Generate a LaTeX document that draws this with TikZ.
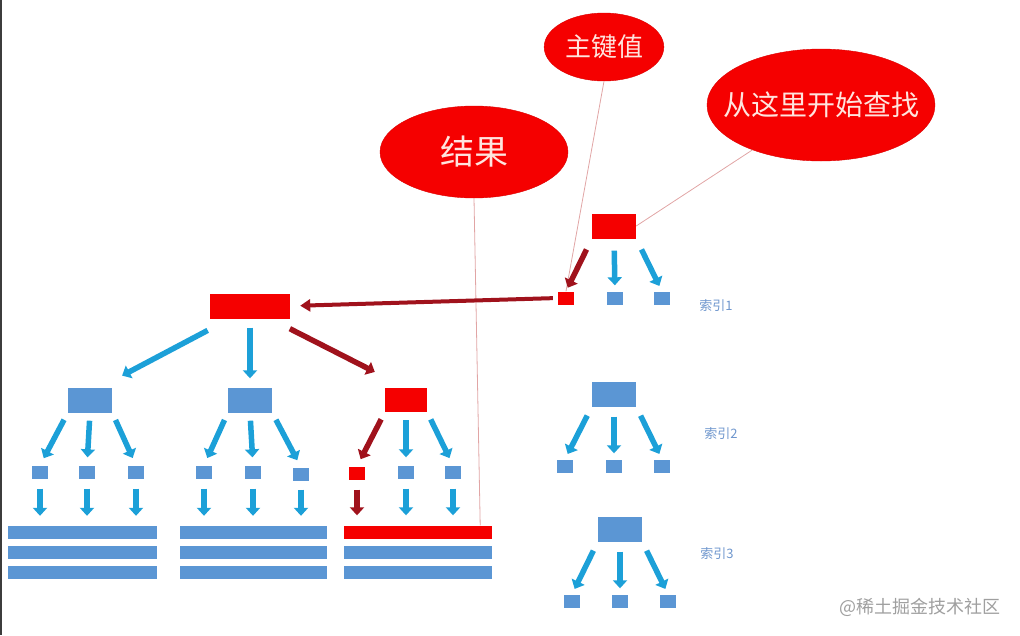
\documentclass[tikz,border=0pt]{standalone}
\usepackage{fontspec}
\newfontfamily\cjk{Noto Sans CJK SC}
\usetikzlibrary{arrows.meta}
\usetikzlibrary{shapes.geometric}

\definecolor{boxred}{RGB}{245,0,0}
\definecolor{boxblue}{RGB}{91,150,212}
\definecolor{arrblue}{RGB}{28,160,216}
\definecolor{arrred}{RGB}{160,18,28}
\definecolor{thinpink}{RGB}{225,165,165}
\definecolor{bubbletext}{RGB}{255,228,222}
\definecolor{labelblue}{RGB}{110,150,205}
\definecolor{frameline}{RGB}{60,60,60}

\tikzset{
    bigbox/.style={fill=#1, inner sep=0pt, minimum width=44pt, minimum height=25pt},
    smallbox/.style={fill=#1, inner sep=0pt, minimum width=16pt, minimum height=13pt},
    rowbar/.style={fill=#1, inner sep=0pt, minimum height=13pt},
    bubble/.style={ellipse, fill=boxred, draw=boxred!90!black, inner ysep=0pt, text=bubbletext},
    bluearr/.style={arrblue, line width=5.5pt, -{Triangle[width=14pt,length=8pt]}},
    redarr/.style={arrred, line width=5.5pt, -{Triangle[width=14pt,length=8pt]}},
    thinline/.style={thinpink, line width=0.8pt},
    idxlabel/.style={text=labelblue, font=\cjk\fontsize{13}{13}\selectfont},
}

\begin{document}
\begin{tikzpicture}[x=1pt, y=-1pt]
    % whole screenshot, pixel grid
    \useasboundingbox (0,0) rectangle (1020,635);
    \fill [frameline] (0,0) rectangle (2,635);

    % the three red bubbles
    \node [bubble, minimum width=118pt, minimum height=68pt, font=\cjk\fontsize{26}{26}\selectfont] (K) at (604,47) {主键值};
    \node [bubble, inner xsep=-30pt, minimum width=228pt, minimum height=112pt, font=\cjk\fontsize{28}{28}\selectfont] (S) at (821,105) {从这里开始查找};
    \node [bubble, minimum width=188pt, minimum height=92pt, font=\cjk\fontsize{34}{34}\selectfont] (J) at (474,152) {结果};

    % index 1 (secondary index, the one we search)
    \node [bigbox=boxred] (I1_0) at (614,226) {};
    \node [smallbox=boxred] (I1_1) at (566,298) {};
    \node [smallbox=boxblue] (I1_2) at (615,298) {};
    \node [smallbox=boxblue] (I1_3) at (662,298) {};
    \node [idxlabel] (L_1) at (716,306) {索引1};

    % index 2
    \node [bigbox=boxblue] (I2_0) at (614,394) {};
    \node [smallbox=boxblue] (I2_1) at (565,466) {};
    \node [smallbox=boxblue] (I2_2) at (614,466) {};
    \node [smallbox=boxblue] (I2_3) at (662,466) {};
    \node [idxlabel] (L_2) at (721,434) {索引2};

    % index 3
    \node [bigbox=boxblue] (I3_0) at (620,529) {};
    \node [smallbox=boxblue] (I3_1) at (572,601) {};
    \node [smallbox=boxblue] (I3_2) at (620,601) {};
    \node [smallbox=boxblue] (I3_3) at (668,601) {};
    \node [idxlabel] (L_3) at (717,554) {索引3};

    % primary key tree
    \node [bigbox=boxred, minimum width=80pt] (T_0) at (250,306) {};
    \node [bigbox=boxblue] (T_1) at (90,400) {};
    \node [bigbox=boxblue] (T_2) at (250,400) {};
    \node [bigbox=boxred, minimum width=42pt, minimum height=24pt] (T_3) at (406,400) {};

    \node [smallbox=boxblue] (T_11) at (40,472) {};
    \node [smallbox=boxblue] (T_12) at (87,472) {};
    \node [smallbox=boxblue] (T_13) at (136,472) {};
    \node [smallbox=boxblue] (T_21) at (204,472) {};
    \node [smallbox=boxblue] (T_22) at (253,472) {};
    \node [smallbox=boxblue] (T_23) at (301,474) {};
    \node [smallbox=boxred] (T_31) at (357,473) {};
    \node [smallbox=boxblue] (T_32) at (406,472) {};
    \node [smallbox=boxblue] (T_33) at (453,472) {};

    % data rows
    \node [rowbar=boxblue, minimum width=149pt] (D_11) at (82.5,532.5) {};
    \node [rowbar=boxblue, minimum width=149pt] (D_12) at (82.5,552.5) {};
    \node [rowbar=boxblue, minimum width=149pt] (D_13) at (82.5,572.5) {};
    \node [rowbar=boxblue, minimum width=147pt] (D_21) at (253.5,532.5) {};
    \node [rowbar=boxblue, minimum width=147pt] (D_22) at (253.5,552.5) {};
    \node [rowbar=boxblue, minimum width=147pt] (D_23) at (253.5,572.5) {};
    \node [rowbar=boxred, minimum width=148pt] (D_31) at (418,532) {};
    \node [rowbar=boxblue, minimum width=148pt] (D_32) at (418,552.5) {};
    \node [rowbar=boxblue, minimum width=148pt] (D_33) at (418,572.5) {};

    % thin pointer lines from the bubbles
    \draw [thinline] (K.south) -- (I1_1.north);
    \draw [thinline] (S) -- (I1_0.east);
    \draw [thinline] (J.south) -- ([xshift=-12pt]D_31.north east);

    % index arrows
    \draw [redarr, shorten <=12pt, shorten >=4pt] (I1_0.south west) -- (I1_1.north);
    \draw [bluearr, shorten <=12pt, shorten >=6pt] (I1_0.south) -- (I1_2.north);
    \draw [bluearr, shorten <=12pt, shorten >=6pt] (I1_0.south east) -- (I1_3.north);

    \draw [bluearr, shorten <=10pt, shorten >=6pt] (I2_0.south west) -- (I2_1.north);
    \draw [bluearr, shorten <=10pt, shorten >=6pt] (I2_0.south) -- (I2_2.north);
    \draw [bluearr, shorten <=10pt, shorten >=6pt] (I2_0.south east) -- (I2_3.north);

    \draw [bluearr, shorten <=10pt, shorten >=6pt] (I3_0.south west) -- (I3_1.north);
    \draw [bluearr, shorten <=10pt, shorten >=6pt] (I3_0.south) -- (I3_2.north);
    \draw [bluearr, shorten <=10pt, shorten >=6pt] (I3_0.south east) -- (I3_3.north);

    % back to the primary key
    \draw [redarr, line width=4pt, -{Triangle[width=12pt,length=10pt]}, shorten <=5pt, shorten >=10pt] (I1_1.west) -- (T_0.east);

    % primary key tree arrows
    \draw [bluearr, shorten <=25pt, shorten >=25pt] ([xshift=20pt]T_0.south west) -- ([xshift=10pt]T_1.north);
    \draw [bluearr, shorten <=9pt, shorten >=9pt] (T_0.south) -- (T_2.north);
    \draw [redarr, shorten <=22pt, shorten >=35pt] ([xshift=-20pt]T_0.south east) -- (T_3.north);

    \draw [bluearr, shorten <=8pt, shorten >=8pt] (T_1.south west) -- (T_11.north);
    \draw [bluearr, shorten <=8pt, shorten >=8pt] (T_1.south) -- (T_12.north);
    \draw [bluearr, shorten <=8pt, shorten >=8pt] (T_1.south east) -- (T_13.north);
    \draw [bluearr, shorten <=8pt, shorten >=8pt] (T_2.south west) -- (T_21.north);
    \draw [bluearr, shorten <=8pt, shorten >=8pt] (T_2.south) -- (T_22.north);
    \draw [bluearr, shorten <=8pt, shorten >=8pt] (T_2.south east) -- (T_23.north);
    \draw [redarr, shorten <=8pt, shorten >=8pt] (T_3.south west) -- (T_31.north);
    \draw [bluearr, shorten <=8pt, shorten >=8pt] (T_3.south) -- (T_32.north);
    \draw [bluearr, shorten <=8pt, shorten >=8pt] (T_3.south east) -- (T_33.north);

    % leaf to row
    \draw [bluearr, shorten <=10pt, shorten >=10pt] (T_11.south) -- (T_11 |- D_11.north);
    \draw [bluearr, shorten <=10pt, shorten >=10pt] (T_12.south) -- (T_12 |- D_11.north);
    \draw [bluearr, shorten <=10pt, shorten >=10pt] (T_13.south) -- (T_13 |- D_11.north);
    \draw [bluearr, shorten <=10pt, shorten >=10pt] (T_21.south) -- (T_21 |- D_21.north);
    \draw [bluearr, shorten <=10pt, shorten >=10pt] (T_22.south) -- (T_22 |- D_21.north);
    \draw [bluearr, shorten <=9pt, shorten >=10pt] (T_23.south) -- (T_23 |- D_21.north);
    \draw [redarr, shorten <=10pt, shorten >=10pt] (T_31.south) -- (T_31 |- D_31.north);
    \draw [bluearr, shorten <=10pt, shorten >=10pt] (T_32.south) -- (T_32 |- D_31.north);
    \draw [bluearr, shorten <=10pt, shorten >=10pt] (T_33.south) -- (T_33 |- D_31.north);

    % site watermark
    \node [text=gray!75, font=\cjk\fontsize{18}{18}\selectfont] (W) at (920,607) {@稀土掘金技术社区};
\end{tikzpicture}
\end{document}
